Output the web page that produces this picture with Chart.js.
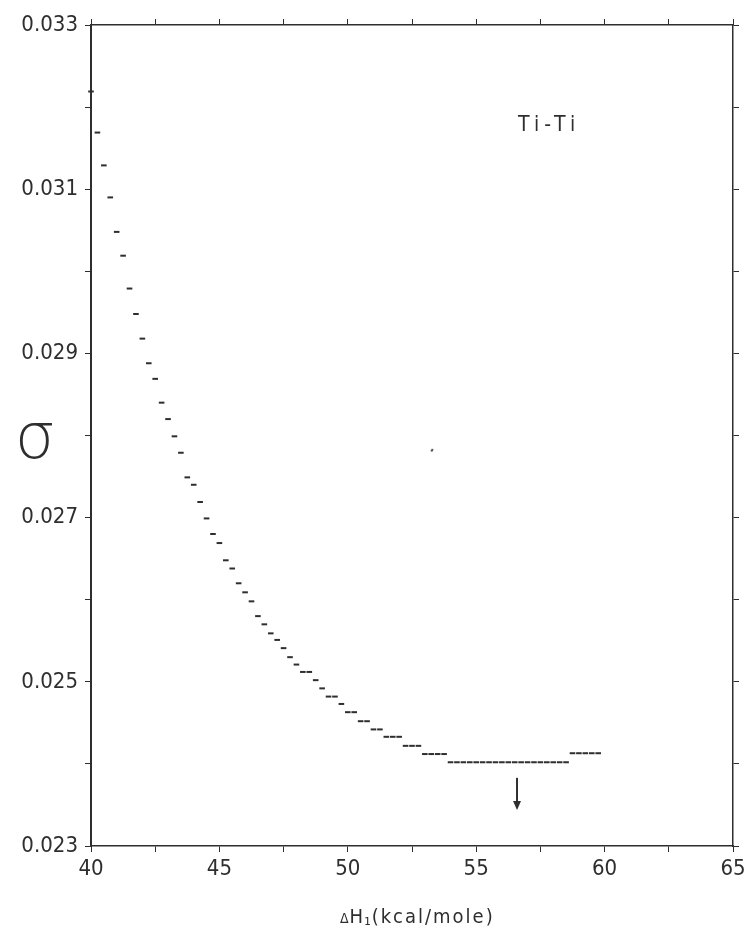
<!DOCTYPE html>
<html>
<head>
<meta charset="utf-8">
<script src="https://cdn.jsdelivr.net/npm/chart.js@4.4.1/dist/chart.umd.min.js"></script>
<style>
  html, body { margin: 0; padding: 0; background: #ffffff; }
  canvas { display: block; }
</style>
</head>
<body>
<canvas id="chart" width="744" height="931"></canvas>
<script>
// Ti-Ti pair: sigma against the activation enthalpy dH1 (kcal/mole)
const enthalpy = [
  40.00, 40.25, 40.50, 40.75, 41.00, 41.25, 41.50, 41.75, 42.00, 42.25,
  42.50, 42.75, 43.00, 43.25, 43.50, 43.75, 44.00, 44.25, 44.50, 44.75,
  45.00, 45.25, 45.50, 45.75, 46.00, 46.25, 46.50, 46.75, 47.00, 47.25,
  47.50, 47.75, 48.00, 48.25, 48.50, 48.75, 49.00, 49.25, 49.50, 49.75,
  50.00, 50.25, 50.50, 50.75, 51.00, 51.25, 51.50, 51.75, 52.00, 52.25,
  52.50, 52.75, 53.00, 53.25, 53.50, 53.75, 54.00, 54.25, 54.50, 54.75,
  55.00, 55.25, 55.50, 55.75, 56.00, 56.25, 56.50, 56.75, 57.00, 57.25,
  57.50, 57.75, 58.00, 58.25, 58.50, 58.75, 59.00, 59.25, 59.50, 59.75
];
const sigma = [
  0.03219, 0.03169, 0.03129, 0.03090, 0.03048, 0.03019, 0.02979, 0.02948, 0.02918, 0.02888,
  0.02869, 0.02840, 0.02820, 0.02799, 0.02779, 0.02749, 0.02740, 0.02719, 0.02699, 0.02680,
  0.02669, 0.02648, 0.02638, 0.02620, 0.02609, 0.02598, 0.02580, 0.02570, 0.02559, 0.02551,
  0.02541, 0.02530, 0.02521, 0.02512, 0.02512, 0.02502, 0.02492, 0.02482, 0.02482, 0.02473,
  0.02463, 0.02463, 0.02452, 0.02452, 0.02442, 0.02442, 0.02433, 0.02433, 0.02433, 0.02422,
  0.02422, 0.02422, 0.02412, 0.02412, 0.02412, 0.02412, 0.02402, 0.02402, 0.02402, 0.02402,
  0.02402, 0.02402, 0.02402, 0.02402, 0.02402, 0.02402, 0.02402, 0.02402, 0.02402, 0.02402,
  0.02402, 0.02402, 0.02402, 0.02402, 0.02402, 0.02413, 0.02413, 0.02413, 0.02413, 0.02413
];
// isolated mark inside the frame
const strayEnthalpy = [53.28];
const straySigma = [0.02782];

// axis labels
const xTickLabels = ['40', '45', '50', '55', '60', '65'];
const yTickLabels = ['0.023', '0.025', '0.027', '0.029', '0.031', '0.033'];
const xTitle = ['\u0394', 'H', '\u2081', '(kcal/mole)'];
const yTitle = '\u03C3';

// annotations: pair name and the arrow marking the minimum
const pairName = 'Ti-Ti';
const pairNameAt = [57.76, 0.03177];
const arrowEnthalpy = [56.59];
const arrowSigma = [0.02383, 0.02344];

const INK = '#2e2e2e';
const TICK_FONT = { family: "'DejaVu Sans Condensed', 'DejaVu Sans', sans-serif", size: 22 };

const points = enthalpy.map((h, i) => ({ x: h, y: sigma[i] }));
const stray = strayEnthalpy.map((h, i) => ({ x: h, y: straySigma[i] }));

const sideGrid = { drawOnChartArea: false, drawTicks: true, tickLength: 6, color: INK, lineWidth: 1 };

const annotations = {
  id: 'annotations',
  afterDraw(chart) {
    const { ctx, scales } = chart;
    const xs = scales.x, ys = scales.y;
    ctx.save();
    ctx.fillStyle = INK;
    ctx.strokeStyle = INK;

    // pair name
    ctx.font = "21px 'DejaVu Sans Condensed', 'DejaVu Sans', sans-serif";
    ctx.letterSpacing = '5px';
    ctx.textAlign = 'center';
    ctx.textBaseline = 'middle';
    ctx.fillText(pairName, xs.getPixelForValue(pairNameAt[0]) + 2, ys.getPixelForValue(pairNameAt[1]));
    ctx.letterSpacing = '0px';

    // arrow pointing at the minimum
    const ax = xs.getPixelForValue(arrowEnthalpy[0]);
    const a1 = ys.getPixelForValue(arrowSigma[0]);
    const a2 = ys.getPixelForValue(arrowSigma[1]);
    ctx.lineWidth = 2;
    ctx.beginPath();
    ctx.moveTo(ax, a1);
    ctx.lineTo(ax, a2 - 8);
    ctx.stroke();
    ctx.beginPath();
    ctx.moveTo(ax - 4, a2 - 9);
    ctx.lineTo(ax + 4, a2 - 9);
    ctx.lineTo(ax, a2);
    ctx.closePath();
    ctx.fill();

    // y-axis symbol
    ctx.font = "300 64px 'DejaVu Sans', sans-serif";
    ctx.textAlign = 'center';
    ctx.textBaseline = 'alphabetic';
    ctx.fillText(yTitle, 35, 458);

    // x-axis title
    const base = 923;
    let x = 340;
    ctx.textAlign = 'left';
    ctx.font = "14px 'DejaVu Sans Condensed', 'DejaVu Sans', sans-serif";
    ctx.fillText(xTitle[0], x, base);
    x += ctx.measureText(xTitle[0]).width + 1;
    ctx.font = "20px 'DejaVu Sans Condensed', 'DejaVu Sans', sans-serif";
    ctx.letterSpacing = '2px';
    ctx.fillText(xTitle[1], x, base);
    x += ctx.measureText(xTitle[1]).width;
    ctx.font = "18px 'DejaVu Sans Condensed', 'DejaVu Sans', sans-serif";
    ctx.fillText(xTitle[2], x - 1, base + 2);
    x += ctx.measureText(xTitle[2]).width - 2;
    ctx.font = "20px 'DejaVu Sans Condensed', 'DejaVu Sans', sans-serif";
    ctx.fillText(xTitle[3], x, base);
    ctx.restore();
  }
};

new Chart(document.getElementById('chart'), {
  type: 'scatter',
  data: {
    datasets: [
      {
        data: points,
        pointStyle: 'line',
        radius: 2.8,
        hoverRadius: 2.8,
        borderWidth: 2,
        borderColor: INK,
        backgroundColor: INK,
        clip: false
      },
      {
        data: stray,
        pointStyle: 'line',
        radius: 1.5,
        rotation: -60,
        borderWidth: 2,
        borderColor: '#555555',
        backgroundColor: '#555555'
      }
    ]
  },
  options: {
    responsive: false,
    animation: false,
    devicePixelRatio: 1,
    layout: { padding: { top: 19, right: 5, left: 0, bottom: 0 } },
    plugins: { legend: { display: false }, tooltip: { enabled: false } },
    scales: {
      x: {
        type: 'linear', position: 'bottom', min: 40, max: 65,
        afterFit: s => { s.height = 85; s.paddingLeft = 0; s.paddingRight = 0; },
        grid: sideGrid,
        border: { display: true, color: INK, width: 1.5, dash: [6, 2] },
        ticks: {
          stepSize: 2.5, autoSkip: false, maxRotation: 0, padding: 4,
          color: INK, font: TICK_FONT,
          callback: v => xTickLabels.includes(String(v)) ? String(v) : ''
        }
      },
      x2: {
        type: 'linear', position: 'top', min: 40, max: 65,
        afterFit: s => { s.height = 6; s.paddingLeft = 0; s.paddingRight = 0; },
        grid: sideGrid,
        border: { display: true, color: INK, width: 1.5, dash: [6, 2] },
        ticks: { stepSize: 2.5, display: false }
      },
      y: {
        type: 'linear', position: 'left', min: 0.023, max: 0.033,
        afterFit: s => { s.width = 91; s.paddingTop = 0; s.paddingBottom = 0; },
        grid: sideGrid,
        border: { display: true, color: INK, width: 2 },
        ticks: {
          stepSize: 0.001, autoSkip: false, padding: 7,
          color: INK, font: TICK_FONT,
          callback: v => { const t = Number(v).toFixed(3); return yTickLabels.includes(t) ? t : ''; }
        }
      },
      y2: {
        type: 'linear', position: 'right', min: 0.023, max: 0.033,
        afterFit: s => { s.width = 6; s.paddingTop = 0; s.paddingBottom = 0; },
        grid: sideGrid,
        border: { display: true, color: INK, width: 1.5, dash: [6, 2] },
        ticks: { stepSize: 0.001, display: false }
      }
    }
  },
  plugins: [annotations]
});
</script>
</body>
</html>
